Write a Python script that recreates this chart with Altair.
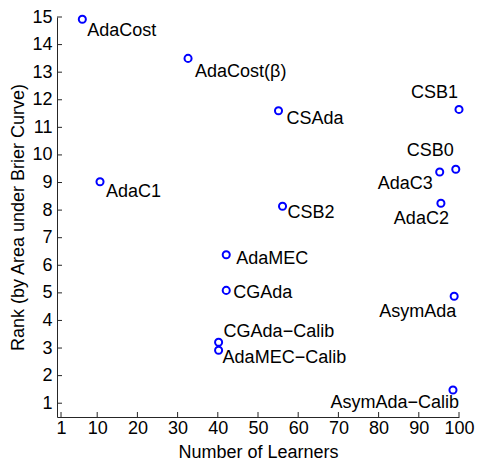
import altair as alt
import pandas as pd

# ---- data ----
methods = ["AdaCost", "AdaCost(β)", "CSAda", "AdaC1", "CSB2", "AdaMEC", "CGAda",
           "CGAda−Calib", "AdaMEC−Calib",
           "CSB1", "CSB0", "AdaC3", "AdaC2", "AsymAda", "AsymAda−Calib"]
learners = [6.3, 32.6, 55.1, 10.7, 56.1, 42.1, 42.1, 40.2, 40.2,
            100.0, 99.2, 95.2, 95.5, 98.8, 98.5]
rank = [14.92, 13.50, 11.60, 9.03, 8.14, 6.38, 5.09, 3.21, 2.92,
        11.65, 9.48, 9.38, 8.25, 4.88, 1.48]

x_ticks = [1, 10, 20, 30, 40, 50, 60, 70, 80, 90, 100]
y_ticks = list(range(1, 16))

# label placement (style, not data)
label_side = ["left"] * 9 + ["right"] * 6
label_dx = [5, 7, 8, 6, 5, 10, 7, 5, 4, -1, -2, -7, 8, 2, 6]
label_dy = [12, 14, 8, 10, 7, 4, 3, -10, 8, -16, -18, 12, 16, 16, 13]

df = pd.DataFrame({"method": methods, "learners": learners, "rank": rank})
xt = pd.DataFrame({"learners": x_ticks})
yt = pd.DataFrame({"rank": y_ticks})

FONT = "Liberation Sans"
AX = "#262626"
W, H = 402, 400
TL = 5

x_scale = alt.Scale(domain=[0, 100], nice=False, zero=False)
y_scale = alt.Scale(domain=[0.5, 15], nice=False, zero=False)
x_axis = alt.Axis(values=x_ticks, title="Number of Learners", labelPadding=2,
                  titlePadding=6, labelFlush=False)
y_axis = alt.Axis(values=y_ticks, title="Rank (by Area under Brier Curve)",
                  labelPadding=5, titlePadding=4, labelFlush=False)
X = alt.X("learners:Q", scale=x_scale, axis=x_axis)
Y = alt.Y("rank:Q", scale=y_scale, axis=y_axis)

points = alt.Chart(df).mark_point(
    shape="circle", filled=False, color="#0000FF", size=50, strokeWidth=2, opacity=1
).encode(x=X, y=Y)

label_layers = []
for m, side, dx, dy in zip(methods, label_side, label_dx, label_dy):
    label_layers.append(
        alt.Chart(df).transform_filter(alt.datum.method == m).mark_text(
            align=side, baseline="middle", font=FONT, fontSize=18, color="black",
            dx=dx, dy=dy,
        ).encode(x=X, y=Y, text="method:N")
    )

xtick_marks = alt.Chart(xt).mark_rule(color=AX, strokeWidth=1).encode(
    x=X, y=alt.value(H), y2=alt.value(H - TL),
)
ytick_marks = alt.Chart(yt).mark_rule(color=AX, strokeWidth=1).encode(
    y=Y, x=alt.value(0), x2=alt.value(TL),
)

chart = alt.layer(points, xtick_marks, ytick_marks, *label_layers).properties(
    width=W, height=H,
    autosize=alt.AutoSizeParams(type="none"),
    padding={"left": 49, "top": 9, "right": 16, "bottom": 43},
).configure_view(stroke=None).configure_axis(
    grid=False, ticks=False, domainColor=AX, domainWidth=1,
    labelFont=FONT, labelFontSize=18, labelColor="black",
    titleFont=FONT, titleFontSize=18, titleFontWeight="normal", titleColor="black",
)

chart.save("out.html", embed_options={"renderer": "svg", "actions": False})
